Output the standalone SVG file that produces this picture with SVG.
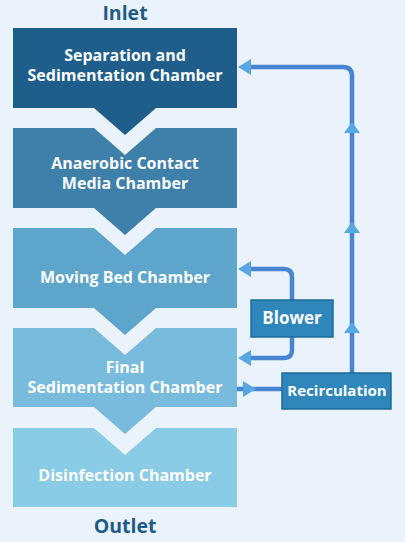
<svg xmlns="http://www.w3.org/2000/svg" width="405" height="542" viewBox="0 0 405 542">
  <style>
    .lbl { font-family: "Open Sans", "Liberation Sans", sans-serif; font-weight: 700; text-anchor: middle; }
    .io { font-size: 19.5px; fill: #1f5b87; }
    .ch { font-size: 16px; fill: #ffffff; }
    .aux { fill: #2f86bb; stroke: #1f6a9b; stroke-width: 1.5; }
    .conn { fill: none; stroke: #4784d1; stroke-width: 4.5; stroke-linejoin: round; }
    .ah { fill: #58a6e2; }
  </style>
  <defs>
    <polygon id="ahR" class="ah" points="0,0 -13,-8 -13,8"/>
    <polygon id="ahU" class="ah" points="0,0 -8,11 8,11"/>
  </defs>
  <rect width="405" height="542" fill="#eaf2fb"/>

  <text class="lbl io" x="125" y="20">Inlet</text>
  <text class="lbl io" x="125" y="533">Outlet</text>

  <g id="separation">
    <path d="M13 28 H237 V108 H156 L125 135 L94 108 H13 Z" fill="#1f5e8b"/>
    <text class="lbl ch" x="125" y="61">Separation and</text>
    <text class="lbl ch" x="125" y="81">Sedimentation Chamber</text>
  </g>
  <g id="anaerobic">
    <path d="M13 128 H94 L125 155 L156 128 H237 V208 H156 L125 235 L94 208 H13 Z" fill="#3e80aa"/>
    <text class="lbl ch" x="125" y="169">Anaerobic Contact</text>
    <text class="lbl ch" x="125" y="189">Media Chamber</text>
  </g>
  <g id="movingbed">
    <path d="M13 228 H94 L125 255 L156 228 H237 V308 H156 L125 335 L94 308 H13 Z" fill="#5ea5cc"/>
    <text class="lbl ch" x="125" y="283">Moving Bed Chamber</text>
  </g>
  <g id="finalsed">
    <path d="M13 328 H94 L125 355 L156 328 H237 V407 H156 L125 434 L94 407 H13 Z" fill="#79bbdc"/>
    <text class="lbl ch" x="125" y="373">Final</text>
    <text class="lbl ch" x="125" y="393">Sedimentation Chamber</text>
  </g>
  <g id="disinfection">
    <path d="M13 428 H94 L125 455 L156 428 H237 V507 H13 Z" fill="#8acbe6"/>
    <text class="lbl ch" x="125" y="481">Disinfection Chamber</text>
  </g>

  <g id="connectors">
    <path class="conn" d="M292 300 V277 Q292 269 284 269 H248"/>
    <path class="conn" d="M292 337 V350 Q292 358 284 358 H248"/>
    <path class="conn" d="M237 389 H282"/>
    <path class="conn" d="M352 373 V76 Q352 67 343 67 H248"/>
    <use href="#ahR" transform="translate(238,269) rotate(180)"/>
    <use href="#ahR" transform="translate(238,358) rotate(180)"/>
    <use href="#ahR" transform="translate(256,389)"/>
    <use href="#ahR" transform="translate(238,67) rotate(180)"/>
    <use href="#ahU" transform="translate(352,122)"/>
    <use href="#ahU" transform="translate(352,222)"/>
    <use href="#ahU" transform="translate(352,322)"/>
  </g>

  <g id="blower">
    <rect class="aux" x="251" y="300" width="82" height="37"/>
    <text class="lbl" x="292" y="324" font-size="17" fill="#ffffff">Blower</text>
  </g>
  <g id="recirculation">
    <rect class="aux" x="282" y="373" width="109" height="36"/>
    <text class="lbl" x="337" y="396" font-size="15" fill="#ffffff">Recirculation</text>
  </g>
</svg>
